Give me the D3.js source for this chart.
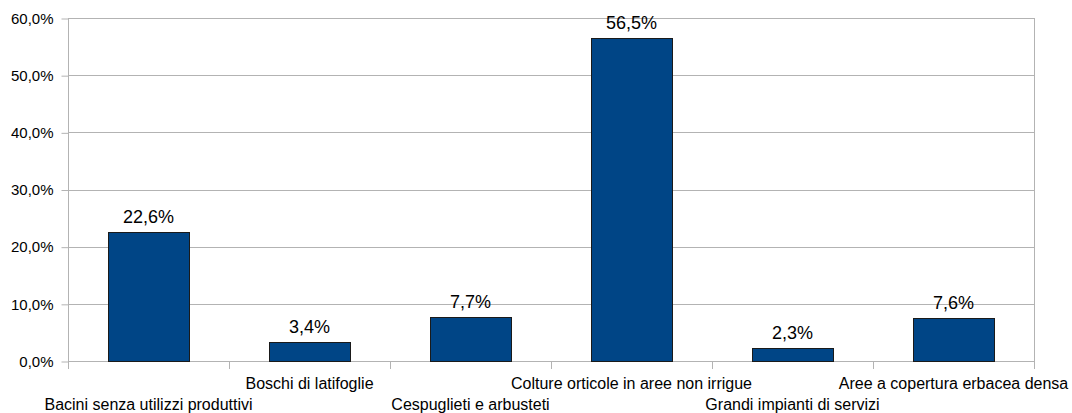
<!DOCTYPE html>
<html>
<head>
<meta charset="utf-8">
<script src="https://cdn.jsdelivr.net/npm/d3@7"></script>
<style>
  html, body { margin: 0; padding: 0; background: #fff; }
  svg { display: block; font-family: "Liberation Sans", Arial, sans-serif; }
</style>
</head>
<body>
<svg id="chart" width="1072" height="413"></svg>
<script>
const categories = [
  "Bacini senza utilizzi produttivi",
  "Boschi di latifoglie",
  "Cespuglieti e arbusteti",
  "Colture orticole in aree non irrigue",
  "Grandi impianti di servizi",
  "Aree a copertura erbacea densa"
];
const values = [22.6, 3.4, 7.7, 56.5, 2.3, 7.6];
const yTicks = [0, 10, 20, 30, 40, 50, 60];

(function () {
const svg = d3.select("#chart");
const pLeft = 68, pRight = 1034, pTop = 18, pBottom = 361;
const fmt = v => d3.format(".1f")(v).replace(".", ",") + "%";

const x = d3.scaleBand().domain(categories).range([pLeft, pRight]).paddingInner(0).paddingOuter(0);
const y = d3.scaleLinear().domain([0, 60]).range([pBottom, pTop]);
const grid = "#b3b3b3";

// gridlines
svg.append("g").selectAll("line").data(yTicks).join("line")
  .attr("x1", pLeft).attr("x2", pRight)
  .attr("y1", d => Math.round(y(d)) + 0.5).attr("y2", d => Math.round(y(d)) + 0.5)
  .attr("stroke", grid).attr("stroke-width", 1);

// y axis
const yAxis = d3.axisLeft(y).tickValues(yTicks).tickFormat(fmt).tickSize(7).tickPadding(8);
const gy = svg.append("g").attr("transform", `translate(${pLeft + 0.5},0.5)`).call(yAxis);
gy.select(".domain").attr("stroke", grid).attr("d", `M0,${pTop}V${pBottom}`);
gy.selectAll(".tick line").attr("stroke", grid);
gy.selectAll(".tick text").attr("fill", "#000").style("font-size", "15px")
  .style("font-family", "'Liberation Sans', Arial, sans-serif");

// right border
svg.append("line").attr("x1", pRight + 0.5).attr("x2", pRight + 0.5)
  .attr("y1", pTop).attr("y2", pBottom + 8).attr("stroke", grid);

// x boundary ticks
const bounds = categories.map(c => x(c)).slice(1);
svg.append("g").selectAll("line").data(bounds).join("line")
  .attr("x1", d => Math.round(d) + 0.5).attr("x2", d => Math.round(d) + 0.5)
  .attr("y1", pBottom).attr("y2", pBottom + 8).attr("stroke", grid);
svg.append("line").attr("x1", pLeft + 0.5).attr("x2", pLeft + 0.5)
  .attr("y1", pBottom).attr("y2", pBottom + 8).attr("stroke", grid);

// bars
const bw = x.bandwidth() / 2;
svg.append("g").selectAll("rect").data(values).join("rect")
  .attr("x", (d, i) => Math.round(x(categories[i]) + x.bandwidth() / 4) + 0.5)
  .attr("y", d => Math.round(y(d)) + 0.5)
  .attr("width", Math.round(bw))
  .attr("height", d => Math.round(pBottom) - Math.round(y(d)))
  .attr("fill", "#004586")
  .attr("stroke", "#1a1a1a").attr("stroke-width", 1);

// value labels
svg.append("g").selectAll("text").data(values).join("text")
  .attr("x", (d, i) => x(categories[i]) + x.bandwidth() / 2)
  .attr("y", d => y(d) - 9)
  .attr("text-anchor", "middle")
  .style("font-size", "18px")
  .text(d => fmt(d));

// category labels, staggered
svg.append("g").selectAll("text").data(categories).join("text")
  .attr("x", d => x(d) + x.bandwidth() / 2)
  .attr("y", (d, i) => i % 2 === 0 ? 410 : 389)
  .attr("text-anchor", "middle")
  .style("font-size", "16px")
  .text(d => d);
})();
</script>
</body>
</html>
